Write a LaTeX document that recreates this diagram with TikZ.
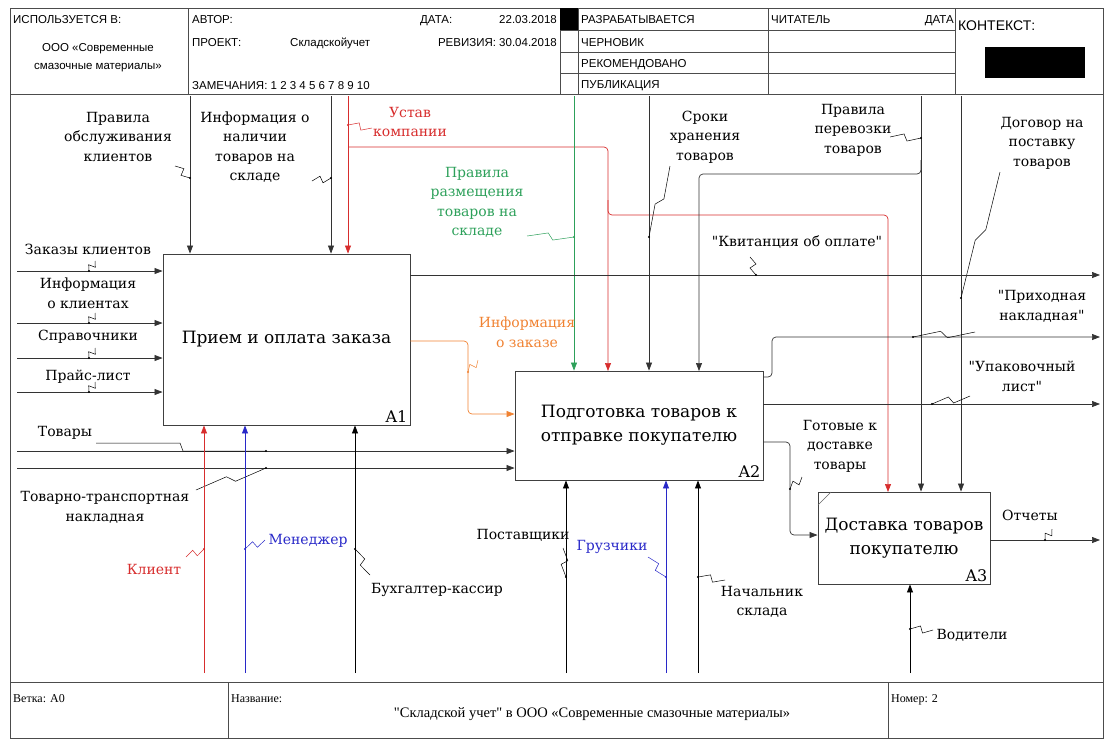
\documentclass[tikz,border=0pt]{standalone}
\usepackage{fontspec}
\setmainfont{DejaVu Serif}
\newfontfamily\hdr{Liberation Sans}
\newfontfamily\ftr{Liberation Serif}
\usetikzlibrary{arrows.meta,calc}

\definecolor{ustav}{RGB}{215,45,45}
\definecolor{razm}{RGB}{45,160,90}
\definecolor{pers}{RGB}{40,40,200}
\definecolor{zakaz}{RGB}{240,130,50}

\newcommand{\q}{\textquotedbl}
% squiggle from a label to its arrow
\newcommand{\tld}[3][black]{%
  \draw[#1,line width=0.5pt] (#2) -- ($(#2)!0.45!(#3)!3.5pt!90:(#3)$)
     -- ($(#2)!0.55!(#3)!3.5pt!-90:(#3)$) -- (#3);
  \fill[#1] (#3) circle (1.1pt);}

\begin{document}
\begin{tikzpicture}[x=1pt,y=-1pt,
  every node/.style={font=\fontsize{14}{19.5}\selectfont, align=center, inner sep=1pt},
  box/.style={draw=black!75, line width=0.9pt, fill=white, font=\fontsize{17}{24}\selectfont},
  num/.style={anchor=south east, inner sep=3pt, font=\fontsize{16}{18}\selectfont},
  ln/.style={draw=black!80, line width=0.7pt},
  arr/.style={ln, -{Triangle[length=8pt,width=6pt]}},
  rnd/.style={rounded corners=4pt},
  hd/.style={font=\hdr\fontsize{11.5}{13}\selectfont, anchor=base west, inner sep=0pt},
  ft/.style={font=\ftr\fontsize{12}{14}\selectfont, anchor=base west, inner sep=0pt},
  frm/.style={draw=black!70, line width=0.8pt}]
\useasboundingbox (0,0) rectangle (1111,740);

% frame, header and footer
\draw[frm] (10,8) rectangle (1103,738);
\draw[frm] (10,94) -- (1103,94);
\draw[frm] (10,682) -- (1103,682);
\foreach \x in {188,560,578,768,955} \draw[frm] (\x,8) -- (\x,94);
\foreach \y in {30,52,73} \draw[frm] (560,\y) -- (955,\y);
\foreach \x in {228,888} \draw[frm] (\x,682) -- (\x,738);
\fill (560,8) rectangle (578,30);
\fill (985,47) rectangle (1085,78);

\node[hd] (used) at (13,23) {ИСПОЛЬЗУЕТСЯ В:};
\node[hd, anchor=center, font=\hdr\fontsize{11.5}{18}\selectfont] (org) at (98,58) {ООО «Современные\\смазочные материалы»};
\node[hd] (avtor) at (192,23) {АВТОР:};
\node[hd] (data) at (420,23) {ДАТА:};
\node[hd, anchor=base east] (datav) at (557,23) {22.03.2018};
\node[hd] (proekt) at (192,46) {ПРОЕКТ:};
\node[hd] (proektv) at (290,46) {Складскойучет};
\node[hd, anchor=base east] (rev) at (557,46) {РЕВИЗИЯ: 30.04.2018};
\node[hd] (zam) at (192,89) {ЗАМЕЧАНИЯ: 1 2 3 4 5 6 7 8 9 10};
\foreach \y/\t/\n in {23/РАЗРАБАТЫВАЕТСЯ/st1, 46/ЧЕРНОВИК/st2, 67/РЕКОМЕНДОВАНО/st3, 88/ПУБЛИКАЦИЯ/st4}
  \node[hd] (\n) at (581,\y) {\t};
\node[hd] (chit) at (771,23) {ЧИТАТЕЛЬ};
\node[hd, anchor=base east] (chitd) at (954,23) {ДАТА};
\node[hd, font=\hdr\fontsize{14}{16}\selectfont] (kont) at (958,30) {КОНТЕКСТ:};

\node[ft] (vetka) at (13,702) {Ветка: A0};
\node[ft] (nazv) at (231,702) {Название:};
\node[ft] (nomer) at (891,702) {Номер: 2};
\node[ft, anchor=center, font=\ftr\fontsize{14.5}{16}\selectfont] (title) at (592,714) {\q Складской учет\q{} в ООО «Современные смазочные материалы»};

% activities
\node[box, minimum width=247, minimum height=171] (A1) at (286.5,339.5) {Прием и оплата заказа};
\node[box, minimum width=248, minimum height=109] (A2) at (639,425.5) {Подготовка товаров к\\отправке покупателю};
\node[box, minimum width=172, minimum height=92] (A3) at (904,538) {Доставка товаров\\покупателю};
\node[num] (nA1) at (A1.south east) {A1};
\node[num] (nA2) at (A2.south east) {A2};
\node[num] (nA3) at (A3.south east) {A3};
\draw[black!60, line width=0.6pt] (818,505) -- (831,492);

% controls from the top
\coordinate (c1) at (190,96);
\coordinate (c2) at (331,96);
\coordinate (c3) at (348,96);
\coordinate (c4) at (574,96);
\coordinate (c5) at (649,96);
\coordinate (c6) at (921,96);
\coordinate (c7) at (961,96);
\draw[arr] (c1) -- (c1 |- A1.north);
\draw[arr] (c2) -- (c2 |- A1.north);
\draw[arr, draw=ustav] (c3) -- (c3 |- A1.north);
\draw[arr, draw=ustav, rnd] (348,147) -- (608,147) -- (608,371);
\draw[arr, draw=ustav, rnd] (608,200) -- (608,215) -- (888,215) -- (888,492);
\draw[arr, draw=razm] (c4) -- (c4 |- A2.north);
\draw[arr] (c5) -- (c5 |- A2.north);
\draw[arr] (c6) -- (c6 |- A3.north);
\draw[arr, rnd] (921,160) -- (921,174) -- (699,174) -- (699,371);
\draw[arr] (c7) -- (c7 |- A3.north);

\node (lobs) at (118,136.5) {Правила\\обслуживания\\клиентов};
\node (lnal) at (255,147) {Информация о\\наличии\\товаров на\\складе};
\node[text=ustav] (lust) at (410,122) {Устав\\компании};
\node[text=razm] (lraz) at (477,202.5) {Правила\\размещения\\товаров на\\складе};
\node (lsro) at (705,137) {Сроки\\хранения\\товаров};
\node (lper) at (853,130) {Правила\\перевозки\\товаров};
\node (ldog) at (1042,143) {Договор на\\поставку\\товаров};
\tld{175,166}{190,178}
\tld{312,181}{331,178}
\tld[ustav]{372,128}{348,125}
\tld[razm]{527,236}{574,237}
\tld{670,166}{649,237}
\tld{890,137}{921,138}
\tld{1000,172}{961,298}

% inputs from the left
\foreach \y/\t/\ly/\n in {271/{Заказы клиентов}/249/lzak, 323/{Информация\\о клиентах}/293.5/linf,
    358/{Справочники}/337/lspr, 392/{Прайс-лист}/377/lpra} {
  \coordinate (i\n) at (17,\y);
  \draw[arr] (i\n) -- (i\n -| A1.west);
  \node (\n) at (88,\ly) {\t};
  \tld{95,\y-10}{89,\y}
}
\coordinate (itov) at (17,451);
\coordinate (ittn) at (17,468);
\draw[arr] (itov) -- (itov -| A2.west);
\draw[arr] (ittn) -- (ittn -| A2.west);
\node (ltov) at (65,433) {Товары};
\node (lttn) at (105,507.5) {Товарно-транспортная\\накладная};
\draw[line width=0.5pt] (96,443) -- (180,443) -- (183,451) -- (266,451);
\fill (266,451) circle (1.1pt);
\tld{196,490}{266,468}

% outputs
\coordinate (okv) at (1100,275);
\draw[arr] (okv -| A1.east) -- (okv);
\node (lkv) at (797,242) {\q Квитанция об оплате\q};
\tld{750,257}{756,275}

\draw[arr, draw=zakaz, rnd] (A1.east |- 0,341) -- (468,341) -- (468,414) -- (A2.west |- 0,414);
\node[text=zakaz] (lizk) at (527,332.5) {Информация\\о заказе};
\tld[zakaz]{478,360}{468,372}

\coordinate (opr) at (1100,337);
\draw[arr, rnd] (A2.east |- 0,377) -- (772,377) -- (772,337) -- (opr);
\node (lpr) at (1042,306.5) {\q Приходная\\накладная\q};
\tld{975,332}{913,337}

\coordinate (oup) at (1100,404);
\draw[arr] (oup -| A2.east) -- (oup);
\node (lup) at (1022,376.5) {\q Упаковочный\\лист\q};
\tld{970,396}{932,404}

\draw[arr, rnd] (A2.east |- 0,442) -- (790,442) -- (790,535) -- (A3.west |- 0,535);
\node (lgot) at (840,446) {Готовые к\\доставке\\товары};
\tld{802,477}{790,489}

\coordinate (oot) at (1100,540);
\draw[arr] (oot -| A3.east) -- (oot);
\node (lot) at (1030,515) {Отчеты};
\tld{1052,529}{1045,540}

% mechanisms from the bottom
\foreach \x/\c/\b/\n in {204/ustav/A1/mkl, 245/pers/A1/mmen, 355/black/A1/mbuh,
    566/black/A2/mpos, 666/pers/A2/mgru, 698/black/A2/mnac, 910/black/A3/mvod} {
  \coordinate (\n) at (\x,673);
  \draw[arr, draw=\c] (\n) -- (\n |- \b.south);
}
\node[text=ustav] (lkl) at (154,569) {Клиент};
\node[text=pers] (lmen) at (308,541) {Менеджер};
\node (lbuh) at (437,590) {Бухгалтер-кассир};
\node (lpos) at (523,535) {Поставщики};
\node[text=pers] (lgru) at (612,547) {Грузчики};
\node (lnac) at (762,602) {Начальник\\склада};
\node (lvod) at (972,635) {Водители};
\tld[ustav]{186,557}{204,549}
\tld[pers]{265,540}{245,549}
\tld{370,575}{355,549}
\tld{563,548}{566,577}
\tld[pers]{648,557}{666,577}
\tld{725,580}{698,577}
\tld{933,630}{910,629}
\end{tikzpicture}
\end{document}
